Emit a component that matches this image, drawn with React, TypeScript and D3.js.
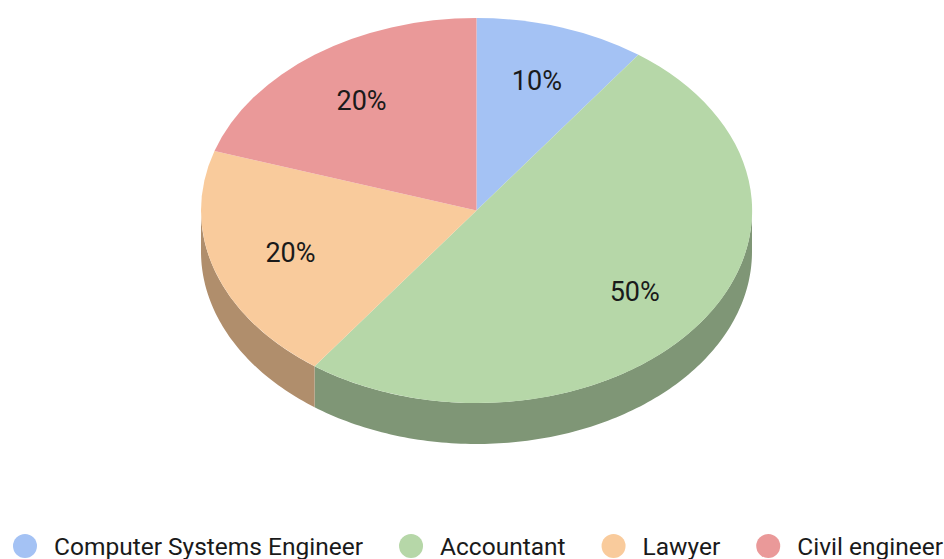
import * as d3 from "d3";
import { useMemo } from "react";

const categories = ["Computer Systems Engineer", "Accountant", "Lawyer", "Civil engineer"];
const values = [10, 50, 20, 20];
const topColors = ["#a4c2f4", "#b6d7a8", "#f9cb9c", "#ea9999"];
const sideColors = ["#7387ab", "#7f9676", "#b08e6c", "#a46b6b"];

const W = 944;
const H = 559;
const cx = 476.5;
const cy = 210.5;
const rx = 275.5;
const ry = 192.5;
const depth = 41;
const labelFrac = 0.71;
const fontFamily = "Roboto, sans-serif";

type Slice = d3.PieArcDatum<number>;

function measure(text: string, font: string) {
  const c = document.createElement("canvas").getContext("2d");
  if (!c) return text.length * 12;
  c.font = font;
  return c.measureText(text).width;
}

const pt = (a: number, dy = 0): [number, number] => [
  cx + rx * Math.sin(a),
  cy - ry * Math.cos(a) + dy,
];

// side wall only shows on the front half of the ellipse
function sidePath(a0: number, a1: number) {
  const s = Math.max(a0, Math.PI / 2);
  const e = Math.min(a1, (3 * Math.PI) / 2);
  if (e <= s) return null;
  const steps = Math.max(8, Math.ceil(((e - s) * 180) / Math.PI));
  const top: [number, number][] = d3.range(steps + 1).map((i) => pt(s + ((e - s) * i) / steps));
  const bottom = top.map(([x, y]) => [x, y + depth] as [number, number]).reverse();
  return d3.line()([...top, ...bottom]) + "Z";
}

const App = () => {
  const slices: Slice[] = useMemo(
    () =>
      d3
        .pie<number>()
        .sort(null)
        .startAngle(0)
        .endAngle(2 * Math.PI)(values),
    []
  );

  const arc = d3
    .arc<Slice>()
    .innerRadius(0)
    .outerRadius(rx);

  const legendSize = 24.5;
  const legendFont = `${legendSize}px ${fontFamily}`;
  let lx = 13;
  const legend = categories.map((c, i) => {
    const w = measure(c, legendFont);
    const item = { x: lx, w, c, i };
    lx += 24 + 17 + w + 36;
    return item;
  });

  return (
    <div style={{ position: "fixed", left: 0, top: 0 }}>
      <svg width={W} height={H} style={{ display: "block", background: "#fff" }}>
        <g>
          {slices.map((s, i) => {
            const d = sidePath(s.startAngle, s.endAngle);
            return d ? <path key={i} d={d} fill={sideColors[i]} /> : null;
          })}
        </g>
        <g transform={`translate(${cx},${cy}) scale(1,${ry / rx})`}>
          {slices.map((s, i) => (
            <path key={i} d={arc(s) ?? ""} fill={topColors[i]} />
          ))}
        </g>
        <g fontFamily={fontFamily} fontSize={27} fill="#1a1a1a" textAnchor="middle">
          {slices.map((s, i) => {
            const m = (s.startAngle + s.endAngle) / 2;
            const x = cx + labelFrac * rx * Math.sin(m);
            const y = cy - labelFrac * ry * Math.cos(m);
            return (
              <text key={i} x={x} y={y} dy="0.36em">
                {values[i]}%
              </text>
            );
          })}
        </g>
        <g fontFamily={fontFamily} fontSize={legendSize} fill="#1a1a1a">
          {legend.map((l) => (
            <g key={l.i} transform={`translate(${l.x},546)`}>
              <circle cx={12} cy={0} r={12} fill={topColors[l.i]} />
              <text x={41} y={0} dy="0.36em">
                {l.c}
              </text>
            </g>
          ))}
        </g>
      </svg>
    </div>
  );
};

export default App;
